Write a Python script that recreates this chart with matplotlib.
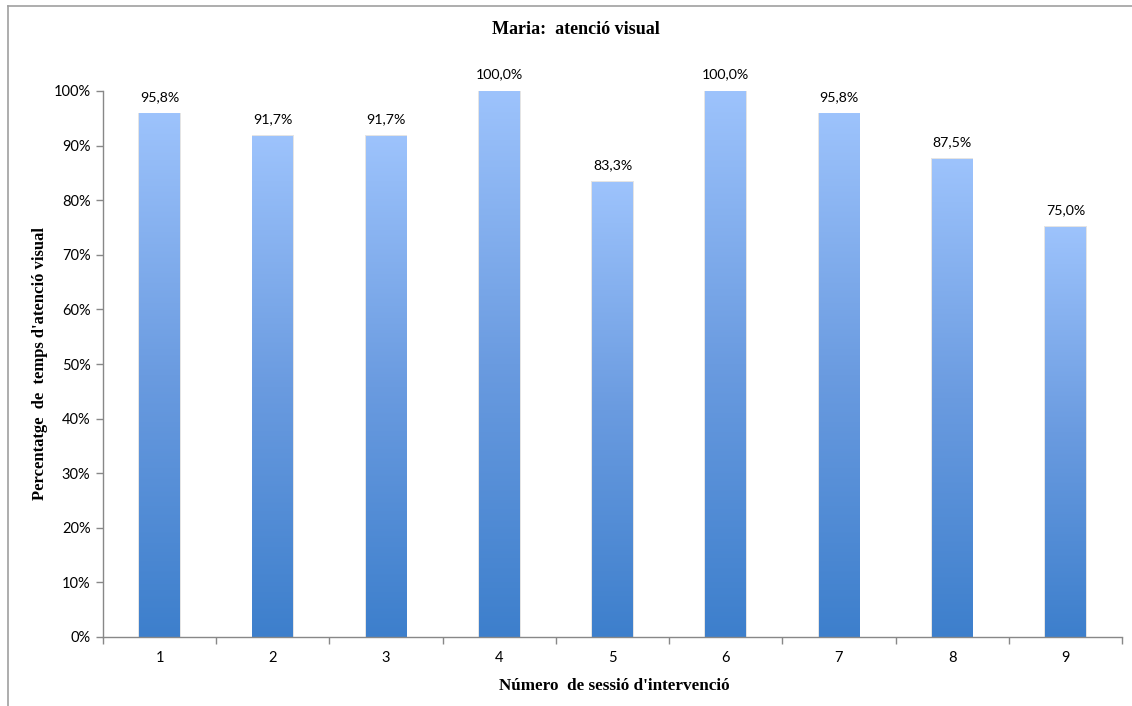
import matplotlib
matplotlib.use("Agg")
import matplotlib.pyplot as plt
import numpy as np
from matplotlib.colors import LinearSegmentedColormap
from matplotlib.ticker import FuncFormatter, MultipleLocator
from matplotlib.lines import Line2D

sessions = ["1", "2", "3", "4", "5", "6", "7", "8", "9"]
values = [95.8, 91.7, 91.7, 100.0, 83.3, 100.0, 95.8, 87.5, 75.0]
labels = ["95,8%", "91,7%", "91,7%", "100,0%", "83,3%", "100,0%", "95,8%", "87,5%", "75,0%"]

title = "Maria:  atenció visual"
xlabel = "Número  de sessió d'intervenció"
ylabel = "Percentatge  de  temps d'atenció visual"

fig = plt.figure(figsize=(11.32, 7.06), dpi=100)
W, H = 1132, 706
ax = fig.add_axes([103 / W, 1 - 637 / H, (1122 - 103) / W, (637 - 91) / H])

cmap = LinearSegmentedColormap.from_list("g", ["#3D7FCC", "#6A9BE0", "#9DC3FC"])
grad = np.linspace(0, 1, 256).reshape(-1, 1)

x = np.arange(len(sessions))
width = 0.36
bars = ax.bar(x, values, width=width, color="none", edgecolor="none", zorder=2)
for b in bars:
    bx, by, bw, bh = b.get_x(), b.get_y(), b.get_width(), b.get_height()
    ax.add_patch(plt.Rectangle((bx - 0.008, by), bw + 0.016, bh + 0.25,
                               facecolor="#E4E4E4", edgecolor="none", zorder=1))
    ax.imshow(grad, cmap=cmap, aspect="auto", origin="lower",
              extent=(bx, bx + bw, by, by + bh), zorder=2)

for xi, v, lab in zip(x, values, labels):
    ax.text(xi, v + 2.0, lab, ha="center", va="bottom", fontsize=10.2,
            family="Lato", color="#000000")

ax.set_xlim(-0.5, len(sessions) - 0.5)
ax.set_ylim(0, 100)
ax.yaxis.set_major_locator(MultipleLocator(10))
ax.yaxis.set_major_formatter(FuncFormatter(lambda v, p: f"{int(round(v))}%"))
ax.set_xticks(x)
ax.set_xticklabels(sessions)
ax.set_xticks(np.arange(-0.5, len(sessions), 1), minor=True)
ax.tick_params(axis="x", which="major", length=0, pad=10)
ax.tick_params(axis="x", which="minor", length=5, color="#888888", width=1)
ax.tick_params(axis="y", length=5, color="#888888", width=1, pad=4)
for t in ax.get_xticklabels() + ax.get_yticklabels():
    t.set_fontfamily("Lato")
    t.set_fontsize(10.5)

for s in ["top", "right"]:
    ax.spines[s].set_visible(False)
for s in ["left", "bottom"]:
    ax.spines[s].set_color("#888888")
    ax.spines[s].set_linewidth(1)

fig.text(576 / W, 1 - 30 / H, title, ha="center", va="center",
         fontsize=13, fontweight="bold", family="Liberation Serif")
fig.text(614 / W, 1 - 686 / H, xlabel, ha="center", va="center",
         fontsize=12.3, fontweight="bold", family="Liberation Serif")
fig.text(40 / W, 1 - 364 / H, ylabel, ha="center", va="center", rotation=90,
         fontsize=12, fontweight="bold", family="Liberation Serif")

fig.add_artist(Line2D([8 / W, 8 / W], [0, 1 - 6 / H], color="#A0A0A0", lw=1.2,
                      transform=fig.transFigure))
fig.add_artist(Line2D([8 / W, 1], [1 - 6 / H, 1 - 6 / H], color="#A0A0A0", lw=1.2,
                      transform=fig.transFigure))

fig.savefig("out.png", dpi=100)
